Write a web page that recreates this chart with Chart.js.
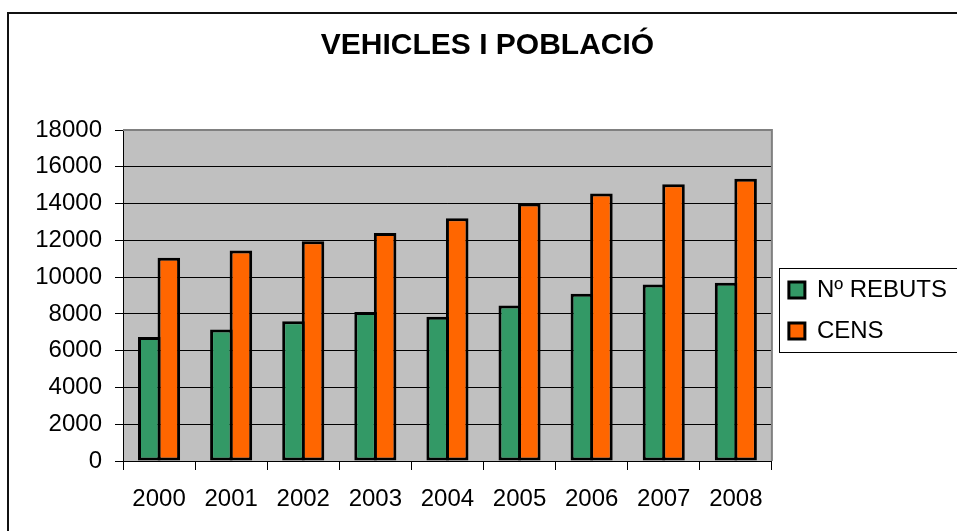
<!DOCTYPE html>
<html>
<head>
<meta charset="utf-8">
<script src="https://cdn.jsdelivr.net/npm/chart.js@4"></script>
<style>
  body { margin: 0; background: #fff; }
  canvas { display: block; }
</style>
</head>
<body>
<canvas id="grafic" width="957" height="531"></canvas>
<script>
// dades llegides del gràfic original
const anys = ['2000', '2001', '2002', '2003', '2004', '2005', '2006', '2007', '2008'];
const rebuts = [6750, 7150, 7600, 8100, 7850, 8450, 9100, 9600, 9700];
const cens = [11050, 11450, 11950, 12400, 13200, 14000, 14550, 15050, 15350];
const titol = 'VEHICLES I POBLACIÓ';

Chart.defaults.font.family = '"Liberation Sans", Arial, sans-serif';
Chart.defaults.color = '#000';

// fons gris, marc exterior i requadre de la llegenda
const decorPlugin = {
  id: 'decor',
  afterLayout(chart) {
    chart.legend.top += 15;
    chart.legend.bottom += 15;
  },
  beforeDraw(chart) {
    const { ctx, chartArea: a } = chart;
    ctx.save();
    ctx.fillStyle = '#fff';
    ctx.fillRect(0, 0, chart.width, chart.height);
    ctx.strokeStyle = '#111';
    ctx.lineWidth = 2;
    ctx.beginPath();
    ctx.moveTo(8, chart.height + 5);
    ctx.lineTo(8, 13);
    ctx.lineTo(chart.width + 5, 13);
    ctx.stroke();
    ctx.fillStyle = '#c0c0c0';
    ctx.fillRect(a.left, a.top, a.right - a.left, a.bottom - a.top);
    ctx.restore();
  },
  afterDraw(chart) {
    const { ctx, chartArea: a } = chart;
    const lg = chart.legend;
    ctx.save();
    // vora superior i dreta de l'àrea de dibuix
    ctx.strokeStyle = '#808080';
    ctx.lineWidth = 2;
    ctx.beginPath();
    ctx.moveTo(a.left, a.top);
    ctx.lineTo(a.right, a.top);
    ctx.lineTo(a.right, a.bottom);
    ctx.stroke();
    // requadre llegenda
    const pad = lg.options.labels.padding;
    const colH = lg.columnSizes[0].height;
    const itemTop = (lg.top + pad + lg.bottom - colH) / 2;
    ctx.strokeStyle = '#000';
    ctx.lineWidth = 1;
    ctx.strokeRect(Math.round(lg.left + 7) + 0.5, Math.round(itemTop - 10) + 0.5,
      chart.width, Math.round(colH - pad + 19));
    ctx.restore();
  }
};

new Chart(document.getElementById('grafic'), {
  type: 'bar',
  data: {
    labels: anys,
    datasets: [
      {
        label: 'Nº REBUTS',
        data: rebuts,
        backgroundColor: '#339966',
        borderColor: '#000',
        borderWidth: 3,
        borderSkipped: false
      },
      {
        label: 'CENS',
        data: cens,
        backgroundColor: '#ff6600',
        borderColor: '#000',
        borderWidth: 3,
        borderSkipped: false
      }
    ]
  },
  options: {
    responsive: false,
    animation: false,
    datasets: {
      // les barres es toquen i comparteixen la vora, com a l'original
      bar: { categoryPercentage: 0.542, barPercentage: 1.154 }
    },
    layout: { padding: { left: 18, right: 0, top: 0, bottom: 0 } },
    plugins: {
      title: {
        display: true,
        text: titol,
        color: '#000',
        font: { size: 30, weight: 'bold' },
        padding: { top: 28, bottom: 66 }
      },
      legend: {
        position: 'right',
        fullSize: false,
        maxWidth: 186,
        labels: {
          font: { size: 24 },
          color: '#000',
          boxWidth: 16,
          boxHeight: 16,
          padding: 17
        }
      },
      tooltip: { enabled: false }
    },
    scales: {
      x: {
        afterFit(scale) { scale.height = 70; },
        grid: {
          offset: true,
          drawOnChartArea: false,
          drawTicks: true,
          tickLength: 9,
          color: '#000'
        },
        border: { color: '#000', width: 1 },
        ticks: { font: { size: 24 }, color: '#000', padding: 15 }
      },
      y: {
        min: 0,
        max: 18000,
        afterFit(scale) { scale.width = 105; },
        grid: { color: '#000', lineWidth: 1, tickLength: 8 },
        border: { color: '#000', width: 1 },
        ticks: {
          stepSize: 2000,
          font: { size: 24 },
          color: '#000',
          padding: 13,
          callback: (v) => String(v)
        }
      }
    }
  },
  plugins: [decorPlugin]
});
</script>
</body>
</html>
